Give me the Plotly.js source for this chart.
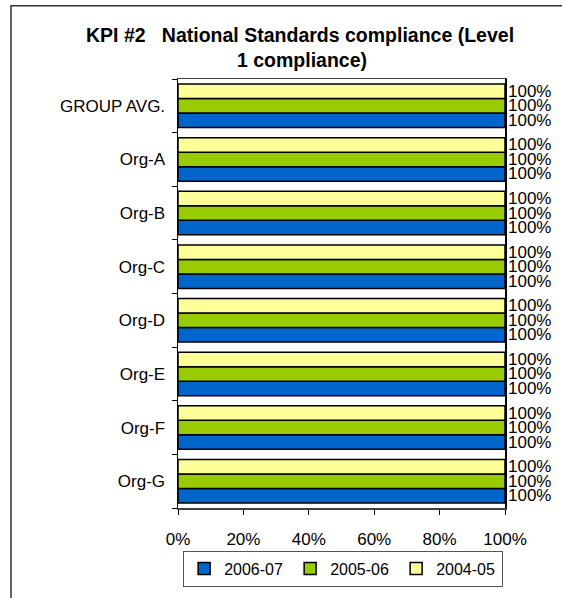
<!DOCTYPE html>
<html>
<head>
<meta charset="utf-8">
<script src="https://cdn.plot.ly/plotly-3.0.1.min.js"></script>
<style>
  html, body { margin: 0; padding: 0; background: #fff; }
  #chart { width: 562px; height: 598px; }
</style>
</head>
<body>
<div id="chart"></div>
<script>
// Data
const categories = ["GROUP AVG.", "Org-A", "Org-B", "Org-C", "Org-D", "Org-E", "Org-F", "Org-G"];
const seriesNames = ["2006-07", "2005-06", "2004-05"];
const values2006_07 = [1, 1, 1, 1, 1, 1, 1, 1];
const values2005_06 = [1, 1, 1, 1, 1, 1, 1, 1];
const values2004_05 = [1, 1, 1, 1, 1, 1, 1, 1];
const xTickVals = [0, 0.2, 0.4, 0.6, 0.8, 1.0];
const xTickText = ["0%", "20%", "40%", "60%", "80%", "100%"];
const titleLine1 = "KPI #2   National Standards compliance (Level";
const titleLine2 = "1 compliance)";

const colors = ["#0066CC", "#99CC00", "#FFFF99"];
const seriesValues = [values2006_07, values2005_06, values2004_05];
const FONT = "Liberation Sans, Arial, sans-serif";

const traces = seriesNames.map((name, i) => ({
  type: "bar",
  orientation: "h",
  name: name,
  y: categories,
  x: seriesValues[i],
  marker: { color: colors[i], line: { color: "#000000", width: 1.5 } },
  texttemplate: "%{x:.0%}",
  textposition: "outside",
  constraintext: "none",
  cliponaxis: false,
  textfont: { family: FONT, size: 17, color: "#000" },
  hoverinfo: "none"
}));

// plot area in pixels: x 178..505, y 79..513
const L = 178, R = 505, T = 79, B = 513;
const px = v => (v - L) / (R - L);
const py = v => (B - v) / (B - T);

const layout = {
  width: 562,
  height: 598,
  margin: { l: L, r: 562 - R, t: T, b: 598 - B, pad: 0 },
  paper_bgcolor: "#ffffff",
  plot_bgcolor: "#ffffff",
  font: { family: FONT, size: 17, color: "#000" },
  barmode: "group",
  bargap: 0.19,
  bargroupgap: 0,
  showlegend: true,
  legend: {
    orientation: "h",
    x: 0.505, xanchor: "center",
    y: py(556), yanchor: "top",
    bordercolor: "#555555", borderwidth: 1,
    bgcolor: "#ffffff",
    font: { family: FONT, size: 16, color: "#000" },
    itemwidth: 30,
    entrywidth: 61,
    tracegroupgap: 0,
    traceorder: "normal"
  },
  xaxis: {
    range: [0, 1],
    tickvals: xTickVals,
    ticktext: xTickText,
    ticks: "outside",
    ticklen: 5,
    tickcolor: "#000",
    showgrid: false,
    zeroline: false,
    showline: true,
    linecolor: "#404040",
    linewidth: 1.5,
    mirror: true,
    ticklabelstandoff: 10,
    tickfont: { family: FONT, size: 17, color: "#000" },
    fixedrange: true
  },
  yaxis: {
    type: "category",
    categoryorder: "array",
    categoryarray: categories.slice().reverse(),
    ticks: "outside",
    tickson: "boundaries",
    ticklen: 5,
    tickcolor: "#000",
    showgrid: false,
    zeroline: false,
    showline: true,
    linecolor: "#000",
    linewidth: 1.5,
    mirror: true,
    ticklabelstandoff: 8,
    tickfont: { family: FONT, size: 17, color: "#000" },
    fixedrange: true
  },
  annotations: [
    { text: "<b>" + titleLine1 + "</b>", xref: "paper", yref: "paper", x: px(300), y: py(34),
      xanchor: "center", yanchor: "middle", showarrow: false,
      font: { family: FONT, size: 19.5, color: "#000" } },
    { text: "<b>" + titleLine2 + "</b>", xref: "paper", yref: "paper", x: px(302), y: py(60),
      xanchor: "center", yanchor: "middle", showarrow: false,
      font: { family: FONT, size: 19.5, color: "#000" } }
  ],
  shapes: [
    { type: "rect", xref: "paper", yref: "paper",
      x0: px(11), x1: px(570), y0: py(660), y1: py(5),
      line: { color: "#333333", width: 1.5 }, fillcolor: "rgba(0,0,0,0)", layer: "below" }
  ]
};

Plotly.newPlot("chart", traces, layout, { staticPlot: true, displayModeBar: false });
</script>
</body>
</html>
